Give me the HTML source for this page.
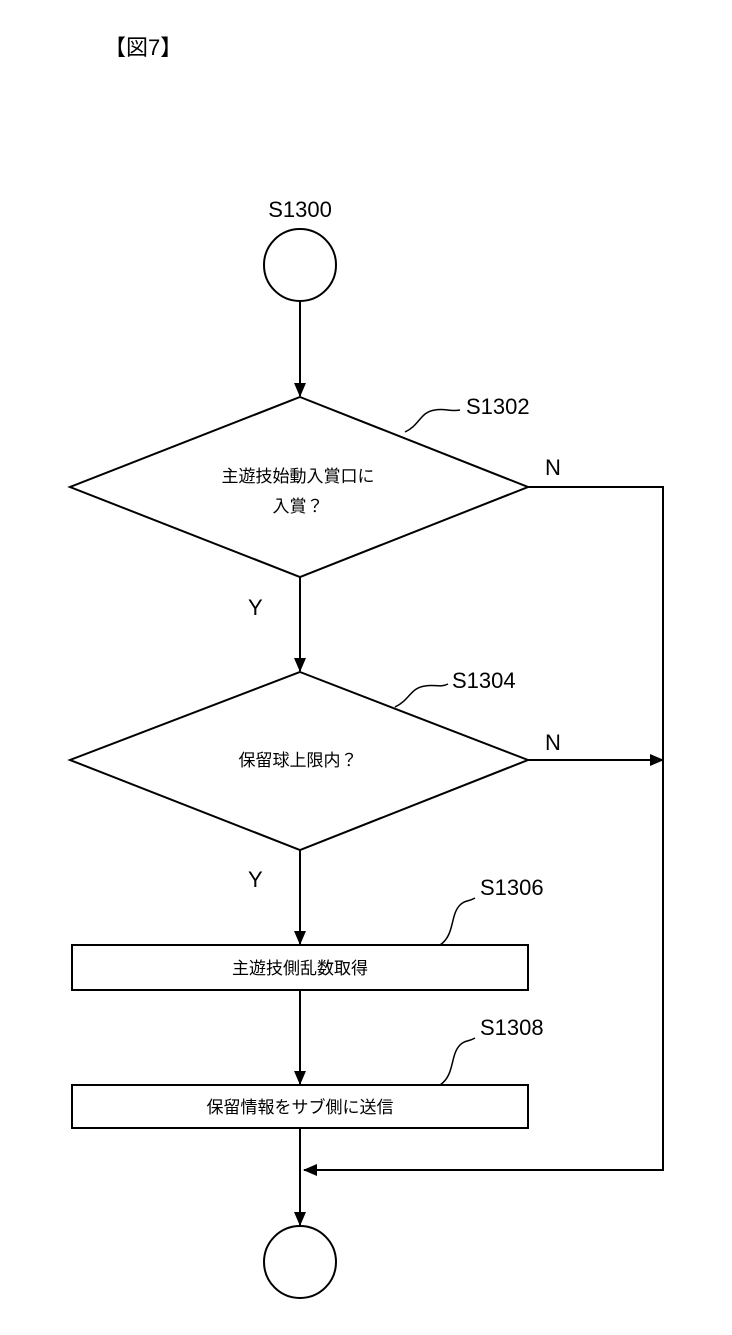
<!DOCTYPE html>
<html><head><meta charset="utf-8"><style>
html,body{margin:0;padding:0;background:#fff;}
svg{display:block;}
text{font-family:"Liberation Sans","Noto Sans CJK JP",sans-serif;fill:#000;}
</style></head><body>
<svg width="732" height="1335" viewBox="0 0 732 1335" xmlns="http://www.w3.org/2000/svg">
<defs>
<marker id="b" markerWidth="14" markerHeight="14" refX="13" refY="7" orient="auto" markerUnits="userSpaceOnUse">
<path d="M0,1 L14,7 L0,13 z" fill="#000"/></marker>
</defs>
<text x="104" y="55" font-size="22">【図7】</text>
<g stroke="#000" stroke-width="2" fill="none">
<circle cx="300" cy="265" r="36"/>
<line x1="300" y1="301" x2="300" y2="396" marker-end="url(#b)"/>
<polygon points="300,397 528,487 300,577 70,487"/>
<line x1="300" y1="577" x2="300" y2="671" marker-end="url(#b)"/>
<polygon points="300,672 528,760 300,850 70,760"/>
<line x1="300" y1="850" x2="300" y2="944" marker-end="url(#b)"/>
<rect x="72" y="945" width="456" height="45"/>
<line x1="300" y1="990" x2="300" y2="1084" marker-end="url(#b)"/>
<rect x="72" y="1085" width="456" height="43"/>
<line x1="300" y1="1128" x2="300" y2="1225" marker-end="url(#b)"/>
<circle cx="300" cy="1262" r="36"/>
<polyline points="528,487 663,487 663,1170 304,1170" marker-end="url(#b)"/>
<line x1="528" y1="760" x2="663" y2="760" marker-end="url(#b)"/>
<path d="M405,432 C420,425 420,412 435,410 C445,408 450,412 460,410" stroke-width="1.5"/>
<path d="M395,707 C410,700 410,688 425,686 C435,684 440,688 448,684" stroke-width="1.5"/>
<path d="M440,945 C455,935 450,915 460,905 C465,900 468,902 475,898" stroke-width="1.5"/>
<path d="M440,1085 C455,1075 450,1055 460,1045 C465,1040 468,1042 475,1038" stroke-width="1.5"/>
</g>
<g font-size="22">
<text x="300" y="217" text-anchor="middle">S1300</text>
<text x="466" y="414">S1302</text>
<text x="452" y="688">S1304</text>
<text x="480" y="895">S1306</text>
<text x="480" y="1035">S1308</text>
<text x="545" y="475">N</text>
<text x="545" y="750">N</text>
<text x="248" y="615">Y</text>
<text x="248" y="887">Y</text>
</g>
<g font-size="17" text-anchor="middle">
<text x="298" y="482">主遊技始動入賞口に</text>
<text x="298" y="512">入賞？</text>
<text x="298" y="766">保留球上限内？</text>
<text x="300" y="974">主遊技側乱数取得</text>
<text x="300" y="1113">保留情報をサブ側に送信</text>
</g>
</svg>
</body></html>
